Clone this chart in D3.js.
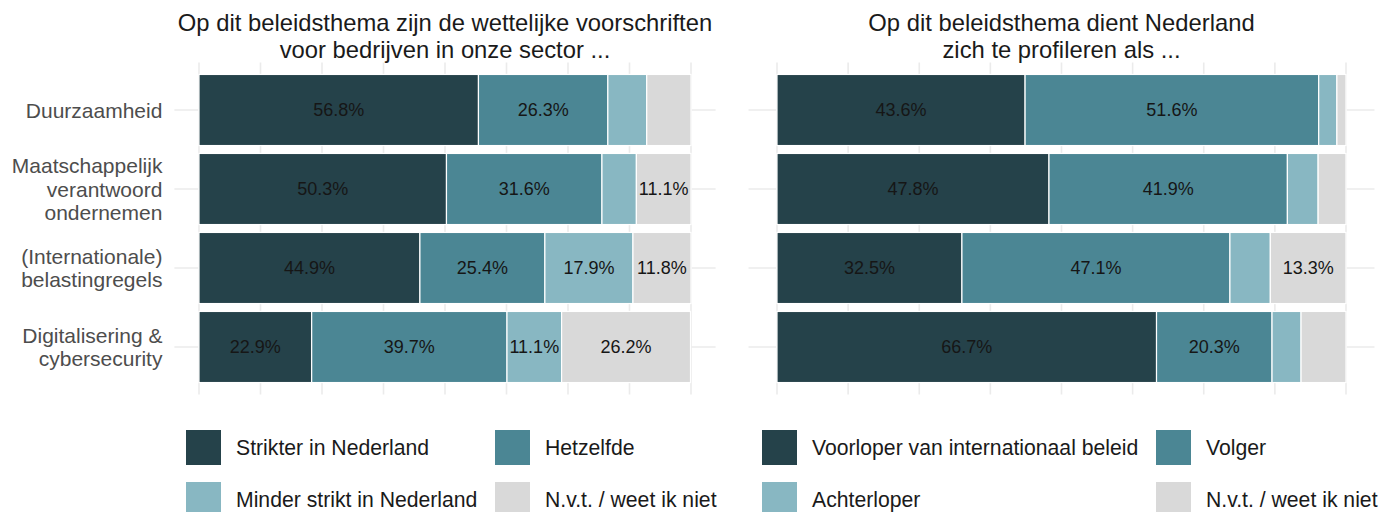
<!DOCTYPE html>
<html><head><meta charset="utf-8">
<script src="https://cdn.jsdelivr.net/npm/d3@7"></script>
<style>
body{margin:0;background:#fff;}
svg{display:block;font-family:"Liberation Sans",Arial,Helvetica,sans-serif;}
</style></head>
<body><svg id="c" width="1380" height="512"></svg>
<script>
const categories = ["Duurzaamheid","Maatschappelijk\nverantwoord\nondernemen","(Internationale)\nbelastingregels","Digitalisering &\ncybersecurity"];
const leftSeries = ["Strikter in Nederland","Hetzelfde","Minder strikt in Nederland","N.v.t. / weet ik niet"];
const rightSeries = ["Voorloper van internationaal beleid","Volger","Achterloper","N.v.t. / weet ik niet"];
const leftValues = [
  [56.8, 26.3, 7.9, 9.0],
  [50.3, 31.6, 7.0, 11.1],
  [44.9, 25.4, 17.9, 11.8],
  [22.9, 39.7, 11.1, 26.2]
];
const rightValues = [
  [43.6, 51.6, 3.2, 1.6],
  [47.8, 41.9, 5.4, 4.9],
  [32.5, 47.1, 7.1, 13.3],
  [66.7, 20.3, 5.1, 7.9]
];
const leftTitle = ["Op dit beleidsthema zijn de wettelijke voorschriften","voor bedrijven in onze sector ..."];
const rightTitle = ["Op dit beleidsthema dient Nederland","zich te profileren als ..."];
const colors = ["#25424a","#4b8694","#88b7c2","#d9d9d9"];
const gridTicks = d3.range(0, 100.1, 12.5);

const svg = d3.select("#c");
const y = d3.scaleBand().domain(categories).range([62.6, 394.4]).paddingInner(0.1).paddingOuter(0.15);

function panel(x, values, series, title, showY, legendX, legendCol2X){
  const [r0, r1] = x.range();
  const ext = (r1 - r0) * 0.05;
  const g = svg.append("g");
  g.selectAll("line.v").data(gridTicks).join("line")
    .attr("x1", d => x(d)).attr("x2", d => x(d))
    .attr("y1", y.range()[0]).attr("y2", y.range()[1])
    .attr("stroke", "#ebebeb").attr("stroke-width", 1.6);
  g.selectAll("line.h").data(categories).join("line")
    .attr("x1", r0 - ext).attr("x2", r1 + ext)
    .attr("y1", d => y(d) + y.bandwidth()/2).attr("y2", d => y(d) + y.bandwidth()/2)
    .attr("stroke", "#ebebeb").attr("stroke-width", 1.6);
  categories.forEach((c, i) => {
    let cum = 0;
    values[i].forEach((v, j) => {
      const x0 = x(cum), x1 = x(cum + v);
      g.append("rect").attr("x", x0).attr("y", y(c)).attr("width", x1 - x0).attr("height", y.bandwidth())
        .attr("fill", colors[j]).attr("stroke", "#ffffff").attr("stroke-width", 1.2);
      if (v >= 10) {
        g.append("text").attr("x", (x0 + x1)/2).attr("y", y(c) + y.bandwidth()/2)
          .attr("text-anchor", "middle").attr("dy", "0.36em")
          .attr("font-size", 18).attr("fill", "#161616")
          .text(v.toFixed(1) + "%");
      }
      cum += v;
    });
  });
  if (showY) {
    const ax = g.append("g").attr("transform", `translate(${r0 - ext},0)`)
      .call(d3.axisLeft(y).tickSize(0).tickPadding(12));
    ax.select(".domain").remove();
    ax.attr("font-family", null).attr("font-size", null);
    ax.selectAll("text").each(function(d){
      const t = d3.select(this);
      const lines = d.split("\n");
      t.text(null).attr("font-size", 21).attr("fill", "#4d4d4d").attr("dy", null);
      const lh = 23.5;
      lines.forEach((ln, k) => {
        t.append("tspan").attr("x", -12).attr("y", (k - (lines.length - 1)/2) * lh).attr("dy", "0.36em").text(ln);
      });
    });
  }
  const cx = (r0 - ext + r1 + ext) / 2;
  title.forEach((t, k) => {
    svg.append("text").attr("x", cx).attr("y", 31 + k * 27).attr("text-anchor", "middle")
      .attr("font-size", 23.8).attr("fill", "#1a1a1a").text(t);
  });
  const pos = [[legendX, 430],[legendCol2X, 430],[legendX, 482],[legendCol2X, 482]];
  series.forEach((s, j) => {
    const [lx, ly] = pos[j];
    svg.append("rect").attr("x", lx).attr("y", ly).attr("width", 35).attr("height", 35).attr("fill", colors[j]);
    svg.append("text").attr("x", lx + 50).attr("y", ly + 17.5).attr("dy", "0.36em")
      .attr("font-size", 21.2).attr("fill", "#1a1a1a").text(s);
  });
}

panel(d3.scaleLinear().domain([0,100]).range([199, 691]), leftValues, leftSeries, leftTitle, true, 186, 495);
panel(d3.scaleLinear().domain([0,100]).range([777, 1346]), rightValues, rightSeries, rightTitle, false, 762, 1156);
</script>
</body></html>
